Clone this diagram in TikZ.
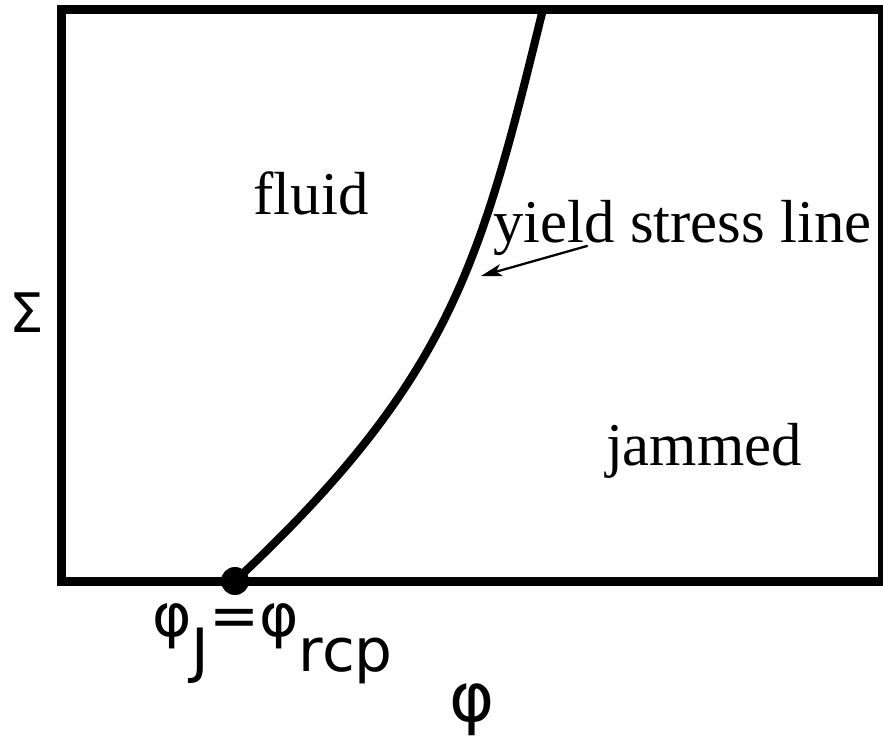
\documentclass[tikz,border=0pt]{standalone}
\usepackage{fontspec}
\setmainfont{Liberation Serif}
\newfontfamily\symfont{DejaVu Sans}
\usetikzlibrary{arrows.meta}

\tikzset{
  region/.style={font=\fontsize{34.6}{40}\selectfont,inner sep=0pt},
  axislabel/.style={font=\symfont\fontsize{31}{36}\selectfont,inner sep=0pt},
}

\begin{document}
\begin{tikzpicture}[x=0.02cm,y=-0.02cm,line cap=round,line join=round]
  \useasboundingbox (0,0) rectangle (883,736);

  % Phase diagram frame.
  \draw[line width=5.1pt,line join=miter,line cap=rect] (61.5,9.5) rectangle (882.5,581.5);

  % Yield stress line, from the jamming point upwards.
  \coordinate (jam) at (235,581);
  \coordinate (top) at (543,9);
  \draw[line width=4.6pt] (jam) .. controls (452,378) and (481,262) .. (top);
  \fill (jam) circle (14);

  % Labels.
  \node[region,anchor=base] (fluid) at (311,215) {fluid};
  \node[region,anchor=base] (jammed) at (704,466) {jammed};
  \node[region,anchor=base west] (yslabel) at (493,243) {yield stress line};
  \coordinate (ystail) at (587,246);
  \coordinate (ystip) at (481,276);
  \draw[line width=1.3pt,-{Stealth[length=12pt,width=7pt,inset=3pt]}] (ystail) -- (ystip);

  \node[axislabel] (sigma) at (27,313) {Σ};
  \node[axislabel,font=\symfont\fontsize{34}{40}\selectfont,anchor=base west] (phij) at (152,637)
    {φ\raisebox{-0.58em}{J}=φ\raisebox{-0.58em}{rcp}};
  \node[axislabel,font=\symfont\fontsize{39}{44}\selectfont,anchor=base] (phi) at (472,721) {φ};
\end{tikzpicture}
\end{document}
